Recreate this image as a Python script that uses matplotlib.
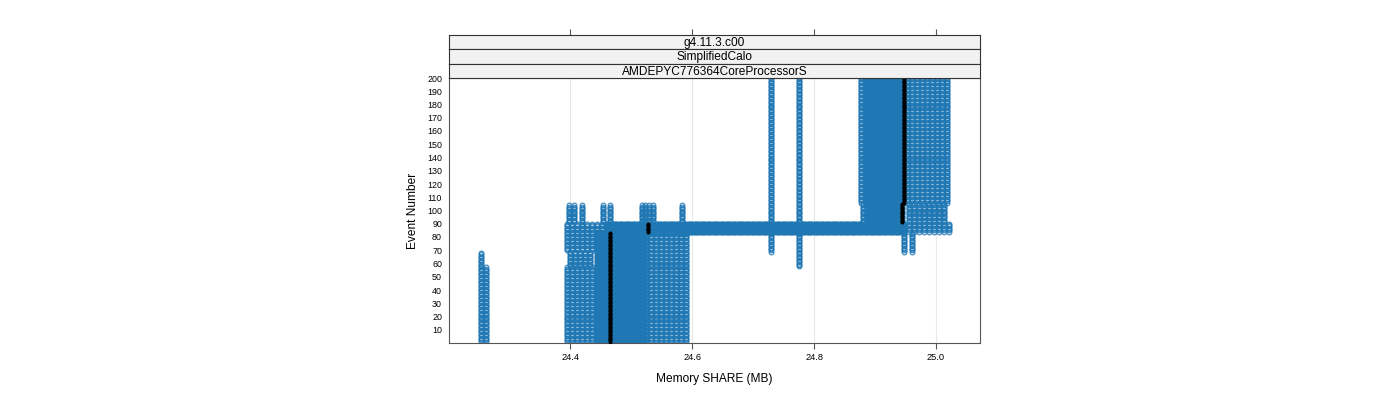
import numpy as np
import matplotlib.pyplot as plt

plt.rcParams['font.family'] = ['Liberation Sans', 'DejaVu Sans']

# ストリップのラベル (上から)
strips = ["g4.11.3.c00", "SimplifiedCalo", "AMDEPYC776364CoreProcessorS"]
x_ticks = [24.4, 24.6, 24.8, 25.0]
y_ticks = list(range(10, 201, 10))

# 単独の列: メモリ値 (MB) と イベント範囲
early_x = [24.2541, 24.2623]
early_first = [1, 1]
early_last = [68, 57]
late_x = [24.7295, 24.7754]
late_first = [69, 58]
late_last = [200, 200]
tail_x = [24.9467, 24.9607]          # events 69-83

low_left_x = [24.3951, 24.4033, 24.4115, 24.4197, 24.4279, 24.4361]     # events 1-57, 70-83
low_left_shift_x = [24.3992, 24.4074, 24.4156, 24.4238, 24.4320]         # events 58-69
low_right_x = [24.5246, 24.5328, 24.5410, 24.5492, 24.5574, 24.5656,
               24.5738, 24.5820, 24.5902]                                 # events 1-83
band_left_x = [24.3943, 24.4025, 24.4107, 24.4189, 24.4270, 24.4352,
               24.4434, 24.4516, 24.4598]                                 # events 84-90
band_right_x = [24.9549, 24.9631, 24.9713, 24.9795, 24.9877, 24.9959,
                25.0041, 25.0123, 25.0205]                                # events 84-90
mid_x = [24.3984, 24.4066, 24.4189, 24.4533, 24.4656, 24.5172, 24.5230,
         24.5287, 24.5352, 24.5828]                                       # events 91-104
mid_right_x = [24.8803, 24.9557, 24.9639, 24.9721, 24.9803, 24.9885,
               24.9967, 25.0049, 25.0131]                                 # events 91-105
high_x = [24.8762, 24.8844, 24.9516, 24.9598, 24.9680, 24.9762, 24.9844,
          24.9926, 25.0008, 25.0090, 25.0172]                             # events 106-200

# ページ毎に埋まっている範囲
page = 0.0039
span_lo = [24.444, 24.462, 24.887]
span_hi = [24.523, 24.948, 24.944]
span_first = [1, 84, 91]
span_last = [83, 90, 200]

# 中央値 (黒)
med_x = [24.4656, 24.528, 24.9445, 24.947]
med_first = [1, 84, 91, 106]
med_last = [83, 90, 105, 200]

# 点の集合を作る
px, py = [], []


def add_cols(xs, first, last):
    for xv in xs:
        ev = np.arange(first, last + 1)
        px.extend([xv] * len(ev))
        py.extend(ev)


for xv, f, l in zip(early_x, early_first, early_last):
    add_cols([xv], f, l)
for xv, f, l in zip(late_x, late_first, late_last):
    add_cols([xv], f, l)
add_cols(tail_x, 69, 83)
add_cols(low_left_x, 1, 57)
add_cols(low_left_shift_x, 58, 69)
add_cols(low_left_x, 70, 83)
add_cols(low_right_x, 1, 83)
add_cols(band_left_x, 84, 90)
add_cols(band_right_x, 84, 90)
add_cols(mid_x, 91, 104)
add_cols(mid_right_x, 91, 105)
add_cols(high_x, 106, 200)
for lo, hi, f, l in zip(span_lo, span_hi, span_first, span_last):
    add_cols(np.arange(lo, hi + 1e-9, page / 2), f, l)

mx, my = [], []
for xv, f, l in zip(med_x, med_first, med_last):
    ev = np.arange(f, l + 1)
    mx.extend([xv] * len(ev))
    my.extend(ev)

fig = plt.figure(figsize=(14, 4), dpi=100)
W, H = 1400, 400
L, R, T, B = 449, 980, 78, 343
ax = fig.add_axes([L / W, 1 - B / H, (R - L) / W, (B - T) / H])

xlim = (24.2016, 25.072)
ax.set_xlim(xlim)
ax.set_ylim(0, 200)

for xt in x_ticks:
    ax.axvline(xt, color='#e8e8e8', lw=0.8, zorder=0)

ax.plot(px, py, ls='none', marker='o', ms=3.4, mfc='none', mec='#1f77b4',
        mew=0.85, alpha=0.85, zorder=2)
ax.plot(mx, my, ls='none', marker='o', ms=2.9, color='black', mew=0, zorder=3)

ax.set_xticks(x_ticks)
ax.set_xticklabels(["24.4", "24.6", "24.8", "25.0"])
ax.set_yticks(y_ticks)
ax.tick_params(axis='x', direction='out', length=4, width=0.8, color='#555555',
               labelsize=6.7, pad=3)
ax.tick_params(axis='y', direction='out', length=0, labelsize=6.4, pad=5)
for s in ax.spines.values():
    s.set_color('#555555')
    s.set_linewidth(0.8)

ax.set_xlabel("Memory SHARE (MB)", fontsize=8.6, labelpad=8)
ax.set_ylabel("Event Number", fontsize=8.6, labelpad=6)

# ストリップ
sh = 43 / 3
for i, name in enumerate(strips):
    top = 35 + i * sh
    sax = fig.add_axes([L / W, 1 - (top + sh) / H, (R - L) / W, sh / H])
    sax.set_facecolor('#f2f2f2')
    sax.set_xlim(xlim)
    sax.set_yticks([])
    sax.text(0.5, 0.44, name, transform=sax.transAxes, ha='center', va='center',
             fontsize=8.6)
    for s in sax.spines.values():
        s.set_color('#333333')
        s.set_linewidth(0.8)
    if i == 0:
        sax.set_xticks(x_ticks)
        sax.xaxis.tick_top()
        sax.tick_params(axis='x', direction='out', length=4.3, width=0.8,
                        color='#555555', labeltop=False)
    else:
        sax.set_xticks([])

fig.savefig("out.png", dpi=100)
